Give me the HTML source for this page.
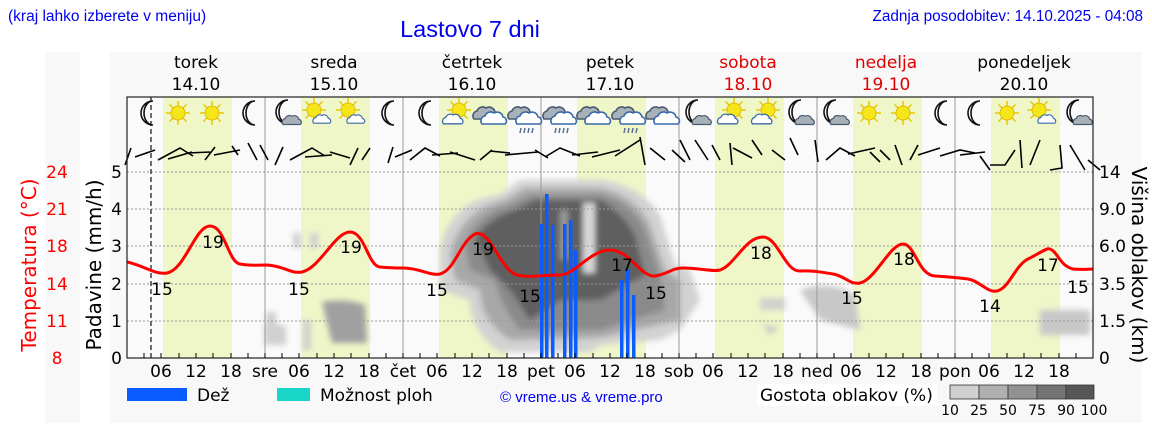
<!DOCTYPE html>
<html><head><meta charset="utf-8"><style>
html,body{margin:0;padding:0;background:#fff;width:1152px;height:443px;overflow:hidden}
svg{font-family:"DejaVu Sans","Liberation Sans",sans-serif}
</style></head><body>
<svg width="1152" height="443" viewBox="0 0 1152 443" xmlns="http://www.w3.org/2000/svg">
<defs>
<g id="sun"><g stroke="#e8c800" stroke-width="1.5">
<line x1="-12" y1="0" x2="12" y2="0"/><line x1="0" y1="-12" x2="0" y2="12"/><line x1="-8.5" y1="-8.5" x2="8.5" y2="8.5"/><line x1="-8.5" y1="8.5" x2="8.5" y2="-8.5"/></g>
<circle r="7" fill="#f5e61a" stroke="#e0b000" stroke-width="0.8"/></g>
<path id="moon" d="M4,-12 A12,12 0 1 0 4,12 A9,12 0 1 1 4,-12 Z" fill="#fff" stroke="#111" stroke-width="1.6"/>
<path id="cloud" d="M-12,6 A5,5 0 0 1 -9,-2 A6,6 0 0 1 0,-5 A6,6 0 0 1 9,-1 A4,4 0 0 1 11,6 Z" fill="#fff" stroke="#3a6aa8" stroke-width="1.6"/>
<path id="gcloud" d="M-12,6 A5,5 0 0 1 -9,-2 A6,6 0 0 1 0,-5 A6,6 0 0 1 9,-1 A4,4 0 0 1 11,6 Z" fill="#a8b0b8" stroke="#4a5a70" stroke-width="1.6"/>
<g id="bigcloud"><use href="#gcloud" transform="translate(-4,-3)"/><use href="#cloud" transform="translate(4,2)"/></g>
<g id="rain"><use href="#bigcloud"/><g stroke="#5a7090" stroke-width="1.5"><line x1="-4" y1="12" x2="-5" y2="17"/><line x1="0" y1="12" x2="-1" y2="17"/><line x1="4" y1="12" x2="3" y2="17"/><line x1="8" y1="12" x2="7" y2="17"/></g></g>
<g id="suncloud"><use href="#sun" transform="translate(3,-3)"/><use href="#cloud" transform="translate(-3,6) scale(0.8)"/></g>
<g id="suncloud2"><use href="#sun" transform="translate(-2,-3)"/><use href="#cloud" transform="translate(6,6) scale(0.7)"/></g>
<g id="mooncloud"><use href="#moon" transform="translate(-3,-1)"/><use href="#gcloud" transform="translate(5,7) scale(0.75)"/></g>
<filter id="bl"><feGaussianBlur stdDeviation="3"/></filter>
</defs>

<rect x="45" y="52" width="35" height="371" fill="#f8f8f8"/>
<rect x="110" y="52" width="1032" height="371" fill="#f8f8f8"/>

<text x="8" y="21" font-size="15.5" fill="#0000ee" font-family="Liberation Sans,sans-serif">(kraj lahko izberete v meniju)</text>
<text x="470" y="37" font-size="23.5" fill="#0000ee" text-anchor="middle" font-family="Liberation Sans,sans-serif">Lastovo 7 dni</text>
<text x="1143" y="21" font-size="15.3" fill="#0000ee" text-anchor="end" font-family="Liberation Sans,sans-serif">Zadnja posodobitev: 14.10.2025 - 04:08</text>

<g font-size="17" text-anchor="middle">
<text x="196" y="68">torek</text><text x="196" y="90">14.10</text>
<text x="334" y="68">sreda</text><text x="334" y="90">15.10</text>
<text x="472" y="68">četrtek</text><text x="472" y="90">16.10</text>
<text x="610" y="68">petek</text><text x="610" y="90">17.10</text>
<text x="748" y="68" fill="#e00000">sobota</text><text x="748" y="90" fill="#e00000">18.10</text>
<text x="886" y="68" fill="#e00000">nedelja</text><text x="886" y="90" fill="#e00000">19.10</text>
<text x="1024" y="68">ponedeljek</text><text x="1024" y="90">20.10</text>
</g>

<rect x="127" y="97" width="966" height="261" fill="#fafafa"/>
<g fill="#eff6c8">
<rect x="163" y="97" width="69" height="261"/><rect x="301" y="97" width="69" height="261"/>
<rect x="439" y="97" width="69" height="261"/><rect x="577" y="97" width="69" height="261"/>
<rect x="715" y="97" width="69" height="261"/><rect x="853" y="97" width="69" height="261"/>
<rect x="991" y="97" width="69" height="261"/>
</g>

<g filter="url(#bl)">
<path d="M440,250 Q450,200 500,195 L520,180 L600,180 Q640,185 660,215 L675,265 L690,270 L700,300 L680,330 L660,340 L600,345 L590,352 L500,352 Q470,330 470,300 L440,290 Z" fill="#d2d2d2"/>
<path d="M450,255 Q460,210 505,200 L525,188 L600,188 Q635,195 650,225 L665,270 L680,280 L680,320 L600,338 L510,340 Q480,320 480,290 L455,280 Z" fill="#a8a8a8"/>
<path d="M465,245 Q475,215 510,205 L530,195 L600,195 Q630,200 645,230 L660,275 L665,310 L600,330 L520,330 Q500,305 495,280 L470,270 Z" fill="#8a8a8a"/>
<path d="M475,240 Q485,220 515,210 L535,200 L600,200 Q620,210 635,235 L645,275 L600,300 L560,300 L530,320 L510,290 L490,270 Z" fill="#5f5f5f"/>
<rect x="583" y="203" width="12" height="70" fill="#d8d8d8"/>
<rect x="560" y="210" width="8" height="50" fill="#9a9a9a"/>
<rect x="266" y="312" width="10" height="16" fill="#cfcfcf"/>
<rect x="264" y="325" width="22" height="20" fill="#d0d0d0"/>
<rect x="293" y="233" width="8" height="15" fill="#cfcfcf"/>
<rect x="310" y="233" width="8" height="15" fill="#cfcfcf"/>
<rect x="303" y="320" width="8" height="30" fill="#cfcfcf"/>
<path d="M322,302 Q345,298 365,305 L367,343 L332,343 Z" fill="#a0a0a0"/>
<path d="M760,320 Q770,330 780,325 L770,335 Z" fill="#c8c8c8"/>
<path d="M800,290 Q830,280 855,295 L860,330 L820,320 Z" fill="#c8c8c8"/>
<rect x="760" y="298" width="25" height="12" fill="#d0d0d0"/>
<rect x="1040" y="310" width="50" height="25" fill="#c8c8c8"/>
</g>

<g stroke="#999" stroke-width="1" stroke-dasharray="2,2">
<line x1="127" y1="172" x2="1093" y2="172"/><line x1="127" y1="209" x2="1093" y2="209"/>
<line x1="127" y1="246" x2="1093" y2="246"/><line x1="127" y1="284" x2="1093" y2="284"/>
<line x1="127" y1="321" x2="1093" y2="321"/>
</g>
<g stroke="#999" stroke-width="1">
<line x1="265" y1="97" x2="265" y2="358"/><line x1="403" y1="97" x2="403" y2="358"/>
<line x1="541" y1="97" x2="541" y2="358"/><line x1="679" y1="97" x2="679" y2="358"/>
<line x1="817" y1="97" x2="817" y2="358"/><line x1="955" y1="97" x2="955" y2="358"/>
</g>
<line x1="151" y1="97" x2="151" y2="358" stroke="#222" stroke-width="1.3" stroke-dasharray="5,3"/>

<g fill="#0a5cff">
<rect x="540" y="224" width="3.5" height="134"/><rect x="545" y="194" width="3.5" height="164"/>
<rect x="551" y="225" width="3.5" height="133"/><rect x="563" y="224" width="3.5" height="134"/>
<rect x="569" y="220" width="3.5" height="138"/><rect x="574" y="250" width="3.5" height="108"/>
<rect x="620" y="280" width="3.5" height="78"/><rect x="626" y="269" width="3.5" height="89"/>
<rect x="632" y="295" width="3.5" height="63"/>
</g>

<path d="M127,262 C145,266 155,275 167,273 C185,270 195,226 210,226 C225,226 228,262 240,264 C250,266 258,265 267,265 C285,266 290,274 302,272 C320,268 335,232 350,232 C365,232 368,266 380,267 C390,268 395,268 403,268 C420,268 430,276 440,274 C455,270 460,242 475,234 C490,228 500,270 517,275 C530,278 545,275 560,275 C575,275 590,250 610,250 C630,250 640,277 655,276 C668,274 672,268 683,268 C700,268 712,272 720,270 C735,265 745,237 763,237 C778,237 785,272 800,271 C815,270 825,273 833,274 C845,276 850,285 860,283 C875,280 890,244 903,244 C915,244 918,275 935,276 C950,277 960,278 968,279 C980,281 987,293 997,291 C1010,288 1015,264 1030,258 C1045,250 1047,248 1050,249 C1058,252 1060,266 1073,269 C1083,270 1088,269 1093,269" fill="none" stroke="#ff0000" stroke-width="3"/>

<g font-size="17" text-anchor="middle" fill="#000">
<text x="213" y="248">19</text><text x="162" y="295">15</text>
<text x="351" y="253">19</text><text x="299" y="295">15</text>
<text x="483" y="255">19</text><text x="437" y="296">15</text>
<text x="530" y="302">15</text><text x="622" y="271">17</text>
<text x="656" y="299">15</text><text x="761" y="259">18</text>
<text x="852" y="304">15</text><text x="904" y="265">18</text>
<text x="990" y="312">14</text><text x="1048" y="271">17</text>
<text x="1078" y="293">15</text>
</g>

<g>
<use href="#moon" x="149" y="113"/><use href="#sun" x="178" y="113"/><use href="#sun" x="212" y="113"/><use href="#moon" x="251" y="113"/>
<use href="#mooncloud" x="287" y="113"/><use href="#suncloud2" x="316" y="113"/><use href="#suncloud2" x="350" y="113"/><use href="#moon" x="390" y="113"/>
<use href="#moon" x="427" y="113"/><use href="#suncloud" x="456" y="113"/><use href="#bigcloud" x="490" y="116"/><use href="#rain" x="525" y="116"/>
<use href="#rain" x="560" y="116"/><use href="#bigcloud" x="594" y="116"/><use href="#rain" x="629" y="116"/><use href="#bigcloud" x="663" y="116"/>
<use href="#mooncloud" x="697" y="113"/><use href="#suncloud" x="731" y="113"/><use href="#suncloud" x="765" y="113"/><use href="#mooncloud" x="800" y="113"/>
<use href="#mooncloud" x="835" y="113"/><use href="#sun" x="869" y="113"/><use href="#sun" x="903" y="113"/><use href="#moon" x="943" y="113"/>
<use href="#moon" x="976" y="113"/><use href="#sun" x="1007" y="113"/><use href="#suncloud2" x="1041" y="113"/><use href="#mooncloud" x="1078" y="113"/>
</g>

<g stroke="#000" stroke-width="1.6" fill="none">
<path d="M125,165 L131,148 M135,157 L155,150 M158,160 L180,148 L193,156 M168,159 L192,152 M188,153 L210,152 M205,160 L215,147 M214,155 L240,150 M232,146 L238,155 M248,143 L257,160 M260,145 L268,160 M275,165 L283,147 M290,160 L312,148 L325,156 M305,157 L332,155 M330,152 L350,158 M350,165 L358,148 M362,160 L370,148 M388,163 L393,147 M395,157 L412,150 M410,160 L425,148 L440,156 M432,155 L458,153 M450,152 L475,160 M480,160 L492,150 M490,151 L510,153 M505,155 L538,152 M535,150 L548,158 M545,157 L560,148 L580,156 M572,155 L598,152 M592,157 L620,150 M615,156 L640,140 M640,137 L645,165 M650,148 L665,160 M672,150 L685,162 M680,140 L690,160 M695,140 L708,160 M712,145 L720,160 M730,143 L732,165 M733,148 L752,158 M752,140 L762,155 M772,150 L785,160 M790,138 L798,155 M815,140 L818,162 M826,160 L840,148 L855,156 M848,154 L875,148 M870,152 L880,162 M880,150 L890,160 M895,145 L902,165 M910,160 L918,145 M918,155 L940,148 M940,156 L960,150 L975,153 M960,155 L985,152 M980,156 L990,170 M990,165 L1005,165 L1015,150 M1020,140 L1022,168 M1030,165 L1040,140 M1060,145 L1062,168 L1050,170 M1070,145 L1085,170 M1088,160 L1100,170"/>
</g>

<rect x="127" y="97" width="966" height="261" fill="none" stroke="#222" stroke-width="1.2"/>

<g stroke="#000" stroke-width="1">
<path d="M144,358 v-5 M161,358 v-5 M179,358 v-5 M196,358 v-5 M213,358 v-5 M231,358 v-5 M248,358 v-5 M265,358 v-5 M282,358 v-5 M299,358 v-5 M317,358 v-5 M334,358 v-5 M351,358 v-5 M369,358 v-5 M386,358 v-5 M403,358 v-5 M420,358 v-5 M437,358 v-5 M455,358 v-5 M472,358 v-5 M489,358 v-5 M507,358 v-5 M524,358 v-5 M541,358 v-5 M558,358 v-5 M575,358 v-5 M593,358 v-5 M610,358 v-5 M627,358 v-5 M645,358 v-5 M662,358 v-5 M679,358 v-5 M696,358 v-5 M713,358 v-5 M731,358 v-5 M748,358 v-5 M765,358 v-5 M783,358 v-5 M800,358 v-5 M817,358 v-5 M834,358 v-5 M851,358 v-5 M869,358 v-5 M886,358 v-5 M903,358 v-5 M921,358 v-5 M938,358 v-5 M955,358 v-5 M972,358 v-5 M989,358 v-5 M1007,358 v-5 M1024,358 v-5 M1041,358 v-5 M1059,358 v-5 M1076,358 v-5"/>
</g>
<g font-size="17" text-anchor="middle">
<text x="161" y="377">06</text><text x="196" y="377">12</text><text x="231" y="377">18</text><text x="265" y="377">sre</text>
<text x="299" y="377">06</text><text x="334" y="377">12</text><text x="369" y="377">18</text><text x="403" y="377">čet</text>
<text x="437" y="377">06</text><text x="472" y="377">12</text><text x="507" y="377">18</text><text x="541" y="377">pet</text>
<text x="575" y="377">06</text><text x="610" y="377">12</text><text x="645" y="377">18</text><text x="679" y="377">sob</text>
<text x="713" y="377">06</text><text x="748" y="377">12</text><text x="783" y="377">18</text><text x="817" y="377">ned</text>
<text x="851" y="377">06</text><text x="886" y="377">12</text><text x="921" y="377">18</text><text x="955" y="377">pon</text>
<text x="989" y="377">06</text><text x="1024" y="377">12</text><text x="1059" y="377">18</text>
</g>

<g font-size="17" text-anchor="end">
<text x="122" y="364">0</text><text x="122" y="327">1</text><text x="122" y="290">2</text>
<text x="122" y="252">3</text><text x="122" y="215">4</text><text x="122" y="178">5</text>
</g>
<g font-size="17" text-anchor="middle" fill="#ff0000">
<text x="57" y="364">8</text><text x="57" y="327">11</text><text x="57" y="290">14</text>
<text x="57" y="252">18</text><text x="57" y="215">21</text><text x="57" y="178">24</text>
</g>
<text transform="translate(36,265) rotate(-90)" font-size="20" fill="#ff0000" text-anchor="middle">Temperatura (°C)</text>
<text transform="translate(101,265) rotate(-90)" font-size="20" text-anchor="middle">Padavine (mm/h)</text>

<g font-size="17">
<text x="1099" y="364">0</text><text x="1099" y="327">1.5</text><text x="1099" y="290">3.5</text>
<text x="1099" y="252">6.0</text><text x="1099" y="215">9.0</text><text x="1099" y="178">14</text>
</g>
<text transform="translate(1132,265) rotate(90)" font-size="20" text-anchor="middle">Višina oblakov (km)</text>

<rect x="127" y="388" width="60" height="13" fill="#0a5cff"/>
<text x="197" y="401" font-size="17">Dež</text>
<rect x="277" y="388" width="33" height="13" fill="#1ad6c8"/>
<text x="320" y="401" font-size="17">Možnost ploh</text>
<text x="500" y="402" font-size="15" fill="#0000ee" font-family="Liberation Sans,sans-serif">© vreme.us &amp; vreme.pro</text>
<rect x="757" y="384" width="180" height="22" fill="#fff"/>
<text x="760" y="401" font-size="17">Gostota oblakov (%)</text>
<g stroke="#333" stroke-width="0.8">
<rect x="950" y="385" width="29" height="14" fill="#d0d0d0"/>
<rect x="979" y="385" width="29" height="14" fill="#b0b0b0"/>
<rect x="1008" y="385" width="29" height="14" fill="#929292"/>
<rect x="1037" y="385" width="29" height="14" fill="#747474"/>
<rect x="1066" y="385" width="28" height="14" fill="#575757"/>
</g>
<g font-size="14" text-anchor="middle">
<text x="950" y="415">10</text><text x="979" y="415">25</text><text x="1008" y="415">50</text>
<text x="1037" y="415">75</text><text x="1066" y="415">90</text><text x="1094" y="415">100</text>
</g>
</svg>
</body></html>
